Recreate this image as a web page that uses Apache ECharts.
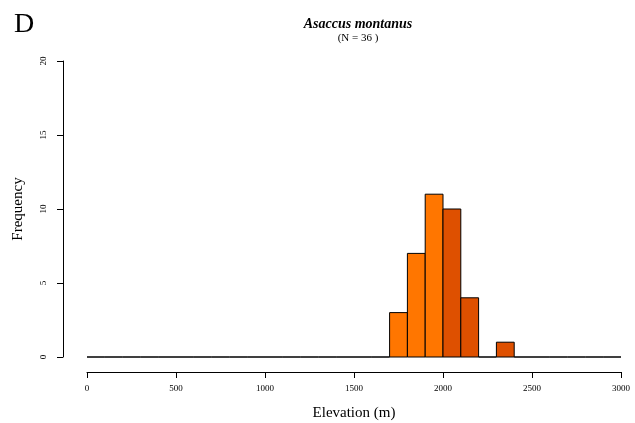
<!DOCTYPE html>
<html>
<head>
<meta charset="utf-8">
<script src="https://cdn.jsdelivr.net/npm/echarts@6/dist/echarts.min.js"></script>
<style>
  html, body { margin: 0; padding: 0; background: #fff; }
  #chart { width: 635px; height: 423px; }
</style>
</head>
<body>
<div id="chart"></div>
<script>
// histogram bins (100 m wide)
const breaks = [0, 100, 200, 300, 400, 500, 600, 700, 800, 900, 1000, 1100, 1200, 1300, 1400, 1500,
  1600, 1700, 1800, 1900, 2000, 2100, 2200, 2300, 2400, 2500, 2600, 2700, 2800, 2900, 3000];
const counts = [0, 0, 0, 0, 0, 0, 0, 0, 0, 0, 0, 0, 0, 0, 0, 0,
  0, 3, 7, 11, 10, 4, 0, 1, 0, 0, 0, 0, 0, 0];
const xTicks = [0, 500, 1000, 1500, 2000, 2500, 3000];
const yTicks = [0, 5, 10, 15, 20];

const lightFill = "#ff7600";
const darkFill = "#de5000";
const darkFrom = 2000;
const serif = "Liberation Serif";

const binData = counts.map((c, i) => [breaks[i], breaks[i + 1], c]);

const chart = echarts.init(document.getElementById("chart"));

chart.setOption({
  animation: false,
  backgroundColor: "#fff",
  textStyle: { fontFamily: serif },
  title: [
    {
      text: "D",
      left: 9, top: 6,
      textStyle: { fontFamily: serif, fontSize: 28, fontWeight: "normal", color: "#000" }
    },
    {
      text: "Asaccus montanus",
      subtext: "(N = 36 )",
      left: 353, top: 12, textAlign: "center",
      itemGap: 2,
      textStyle: { fontFamily: serif, fontSize: 14, fontWeight: "bold", fontStyle: "italic", color: "#000" },
      subtextStyle: { fontFamily: serif, fontSize: 11, color: "#000" }
    }
  ],
  grid: { left: 87, right: 14, top: 61, bottom: 66, outerBoundsMode: "none", containLabel: false },
  xAxis: {
    type: "value",
    min: 0, max: 3000, interval: 500,
    offset: 15,
    name: "Elevation (m)",
    nameLocation: "middle",
    nameGap: 34,
    nameTextStyle: { fontFamily: serif, fontSize: 15, color: "#000" },
    axisLine: { show: true, onZero: false, lineStyle: { color: "#000", width: 1 } },
    axisTick: { show: true, length: 6, lineStyle: { color: "#000" } },
    axisLabel: {
      fontFamily: serif, fontSize: 9, color: "#000", margin: 12,
      customValues: xTicks,
      formatter: v => String(v)
    },
    splitLine: { show: false }
  },
  yAxis: {
    type: "value",
    min: 0, max: 20, interval: 5,
    offset: 24,
    name: "Frequency",
    nameLocation: "middle",
    nameGap: 37,
    nameRotate: 90,
    nameTextStyle: { fontFamily: serif, fontSize: 15, color: "#000" },
    axisLine: { show: true, onZero: false, lineStyle: { color: "#000", width: 1 } },
    axisTick: { show: true, length: 6, lineStyle: { color: "#000" } },
    axisLabel: {
      fontFamily: serif, fontSize: 9, color: "#000", margin: 15, rotate: 90,
      customValues: yTicks,
      formatter: v => String(v)
    },
    splitLine: { show: false }
  },
  series: [{
    type: "custom",
    data: binData,
    encode: { x: [0, 1], y: 2 },
    renderItem: function (params, api) {
      const x0 = api.value(0), x1 = api.value(1), c = api.value(2);
      const p0 = api.coord([x0, c]);
      const p1 = api.coord([x1, 0]);
      return {
        type: "rect",
        shape: { x: p0[0], y: p0[1], width: p1[0] - p0[0], height: p1[1] - p0[1] },
        style: {
          fill: x0 >= darkFrom ? darkFill : lightFill,
          stroke: "#000",
          lineWidth: 1
        }
      };
    }
  }]
});
</script>
</body>
</html>
